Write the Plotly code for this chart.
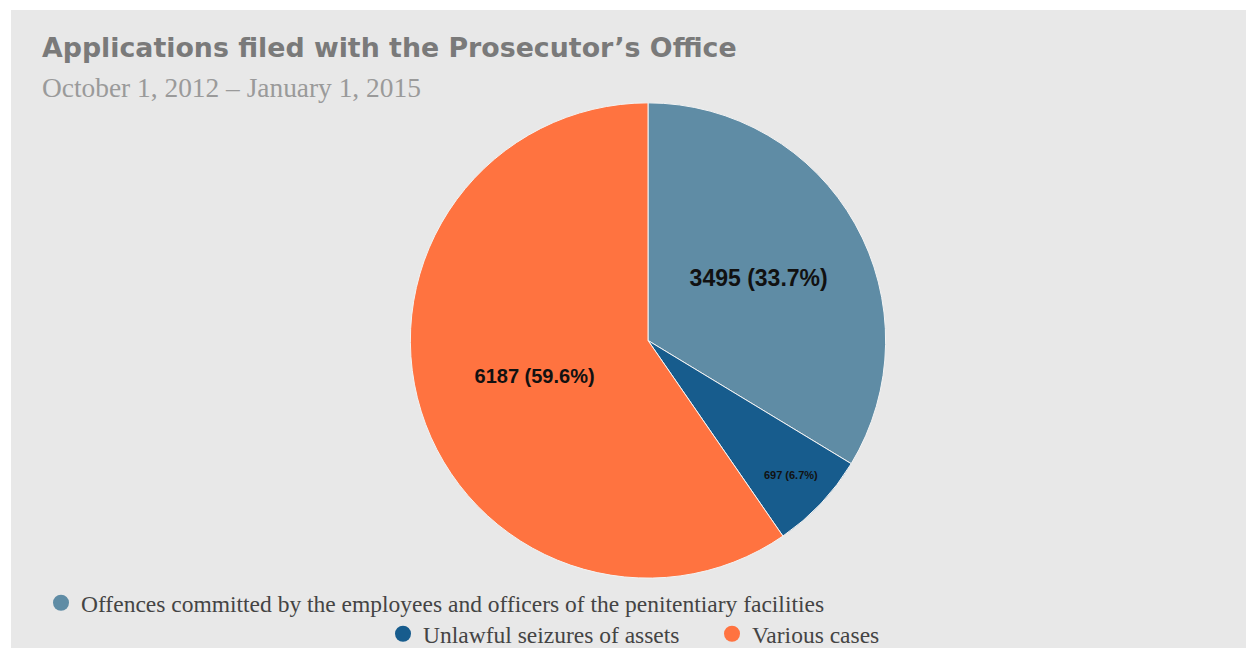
import plotly.graph_objects as go

categories = [
    "Offences committed by the employees and officers of the penitentiary facilities",
    "Unlawful seizures of assets",
    "Various cases",
]
values = [3495, 697, 6187]
colors = ["#5f8ca5", "#175c8d", "#ff7340"]
label_sizes = [23, 11, 20]

W, H = 1254, 648
BG = "#e8e8e8"
OX, OY = 8, 8  # page body margin offset

def px_x(p):
    return (p - OX) / W

def px_y(p):
    return 1 - (p - OY) / H

# target pie centre / radius in window pixels, compensated for plotly fitting
cx, cy, r = 648, 341, 238

fig = go.Figure()
fig.add_trace(go.Pie(
    labels=categories,
    values=values,
    sort=False,
    direction="clockwise",
    rotation=0,
    marker=dict(colors=colors, line=dict(color="#f4f4f4", width=1)),
    texttemplate="%{value} (%{percent:.1%})",
    textposition="inside",
    insidetextorientation="horizontal",
    textfont=dict(family="Liberation Sans", size=label_sizes, color="#111111", weight="bold"),
    hoverinfo="label+value+percent",
    showlegend=False,
    domain=dict(x=[px_x(cx - r), px_x(cx + r)], y=[px_y(cy + r), px_y(cy - r)]),
))

# legend entries (no data drawn)
for i, (name, col) in enumerate(zip(categories, colors)):
    fig.add_trace(go.Scatter(
        x=[None], y=[None], mode="markers", name=name,
        marker=dict(color=col, size=17, symbol="circle"),
        legend="legend" if i == 0 else "legend2",
        hoverinfo="skip",
    ))

legend_font = dict(family="Liberation Serif", size=23.5, color="#444444")
fig.update_layout(
    width=W, height=H,
    margin=dict(l=0, r=0, t=0, b=0),
    paper_bgcolor="white",
    plot_bgcolor="rgba(0,0,0,0)",
    xaxis=dict(visible=False),
    yaxis=dict(visible=False),
    legend=dict(orientation="h", x=33 / W, y=px_y(603), xanchor="left", yanchor="middle",
                font=legend_font, bgcolor="rgba(0,0,0,0)", itemclick=False),
    legend2=dict(orientation="h", x=375 / W, y=px_y(635), xanchor="left", yanchor="middle",
                 font=legend_font, bgcolor="rgba(0,0,0,0)", itemclick=False,
                 entrywidth=284),
    shapes=[dict(type="rect", xref="paper", yref="paper", x0=px_x(11), x1=1.01, y0=-0.02, y1=px_y(10),
                 fillcolor=BG, line=dict(width=0), layer="below")],
    annotations=[
        dict(text="<b>Applications filed with the Prosecutor’s Office</b>", xref="paper", yref="paper",
             x=px_x(40), y=px_y(48), xanchor="left", yanchor="middle", showarrow=False,
             font=dict(family="DejaVu Sans", size=26.8, color="#7a7a7a")),
        dict(text="October 1, 2012 – January 1, 2015", xref="paper", yref="paper",
             x=px_x(40), y=px_y(88), xanchor="left", yanchor="middle", showarrow=False,
             font=dict(family="Liberation Serif", size=27.4, color="#9a9a9a")),
    ],
)

fig.write_html("out.html")
